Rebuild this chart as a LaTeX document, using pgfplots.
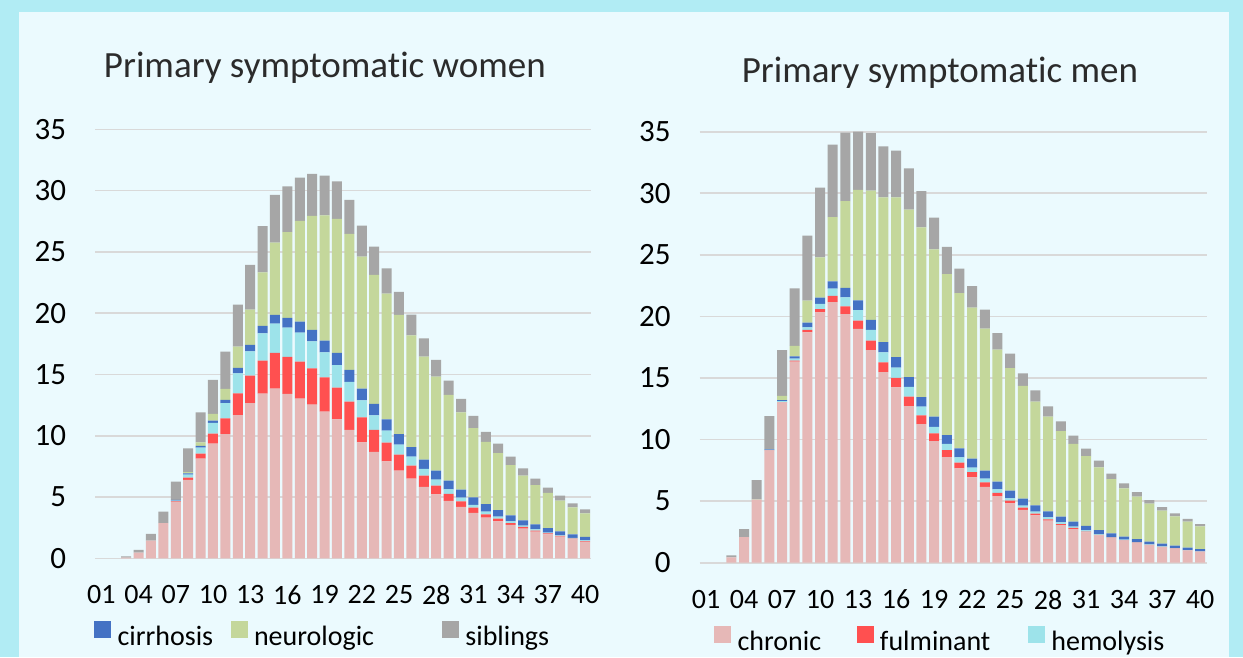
\documentclass[border=0pt]{standalone}
\usepackage{pgfplots}
\pgfplotsset{compat=1.18}
\usepackage{pgfplotstable}
\usepackage{fontspec}
\setmainfont{Carlito}[Ligatures=NoCommon]
\definecolor{outerbg}{HTML}{B1ECF4}
\definecolor{innerbg}{HTML}{EBFAFE}
\definecolor{gridc}{HTML}{D9D9D9}
\definecolor{titlec}{HTML}{2B2B2B}
\definecolor{chronicc}{HTML}{E6B8B7}
\definecolor{fulmc}{HTML}{FF5050}
\definecolor{hemoc}{HTML}{9DE3EA}
\definecolor{cirrc}{HTML}{4472C4}
\definecolor{neuroc}{HTML}{C4D79B}
\definecolor{sibc}{HTML}{A6A6A6}

\pgfplotstableread{
cat chronic fulm hemo cirr neuro sib
1 0 0 0 0 0 0
2 0 0 0 0 0 0
3 0.05 0 0 0 0 0.10
4 0.46 0 0 0 0 0.22
5 1.44 0 0 0 0 0.55
6 2.86 0 0 0 0 0.95
7 4.60 0.04 0.06 0.06 0 1.50
8 6.39 0.19 0.25 0.10 0.11 1.93
9 8.13 0.41 0.49 0.14 0.29 2.45
10 9.36 0.81 0.87 0.19 0.55 2.77
11 10.14 1.28 1.23 0.27 0.90 3.04
12 11.69 1.77 1.63 0.44 1.74 3.43
13 12.67 2.23 1.99 0.52 2.88 3.64
14 13.43 2.70 2.23 0.60 4.37 3.78
15 13.84 2.91 2.40 0.70 5.90 3.89
16 13.41 3.02 2.39 0.79 7.01 3.73
17 13.03 3.02 2.36 0.90 8.21 3.54
18 12.54 2.96 2.20 0.93 9.30 3.43
19 11.97 2.80 2.04 0.95 10.22 3.24
20 11.34 2.58 1.85 0.98 10.94 3.07
21 10.47 2.31 1.61 0.98 11.09 2.78
22 9.46 2.04 1.39 0.95 10.77 2.53
23 8.68 1.79 1.20 0.92 10.53 2.31
24 7.91 1.53 0.98 0.92 10.25 2.07
25 7.15 1.31 0.81 0.87 9.71 1.88
26 6.50 1.06 0.73 0.79 9.11 1.69
27 5.82 0.92 0.55 0.76 8.40 1.50
28 5.22 0.71 0.49 0.73 7.67 1.36
29 4.68 0.57 0.38 0.71 6.99 1.17
30 4.19 0.46 0.30 0.65 6.31 1.09
31 3.70 0.43 0.22 0.63 5.65 0.98
32 3.32 0.27 0.22 0.60 5.08 0.82
33 3.02 0.22 0.16 0.54 4.65 0.77
34 2.72 0.16 0.14 0.49 4.10 0.68
35 2.42 0.14 0.11 0.43 3.64 0.60
36 2.18 0.08 0.11 0.40 3.21 0.52
37 1.96 0.08 0.05 0.38 2.86 0.44
38 1.77 0.05 0.06 0.32 2.50 0.41
39 1.55 0.05 0.06 0.30 2.20 0.33
40 1.33 0.06 0.08 0.27 1.93 0.33
}\women

\pgfplotstableread{
cat chronic fulm hemo cirr neuro sib
1 0 0 0 0 0 0
2 0 0 0 0 0 0
3 0.43 0 0 0 0 0.17
4 2.08 0 0 0 0 0.65
5 5.12 0 0 0 0.02 1.57
6 9.10 0.02 0.04 0.04 0 2.71
7 13.02 0.03 0.08 0.08 0.33 3.73
8 16.32 0.08 0.17 0.19 0.84 4.68
9 18.71 0.19 0.21 0.38 1.79 5.28
10 20.33 0.27 0.41 0.51 3.28 5.65
11 21.17 0.49 0.59 0.60 5.22 5.88
12 20.19 0.63 0.73 0.76 7.06 5.55
13 18.98 0.67 0.87 0.78 8.97 4.73
14 17.27 0.76 0.87 0.81 10.50 4.68
15 15.48 0.79 0.81 0.84 11.75 4.14
16 14.24 0.76 0.84 0.86 12.97 3.79
17 12.72 0.76 0.79 0.81 13.59 3.35
18 11.26 0.71 0.70 0.78 13.78 2.95
19 9.88 0.62 0.54 0.82 13.59 2.57
20 8.58 0.57 0.49 0.73 13.07 2.20
21 7.66 0.46 0.43 0.74 12.61 1.98
22 6.93 0.43 0.36 0.73 12.26 1.76
23 6.15 0.37 0.30 0.65 11.53 1.55
24 5.41 0.27 0.28 0.62 10.72 1.35
25 4.82 0.22 0.18 0.63 9.96 1.16
26 4.28 0.19 0.16 0.57 9.15 1.03
27 3.84 0.14 0.16 0.52 8.42 0.92
28 3.41 0.11 0.16 0.49 7.69 0.84
29 3.06 0.08 0.14 0.46 6.95 0.79
30 2.73 0.09 0.10 0.41 6.31 0.67
31 2.46 0.06 0.11 0.37 5.66 0.60
32 2.22 0.05 0.06 0.32 5.09 0.54
33 2.00 0.03 0.05 0.30 4.41 0.44
34 1.79 0.03 0.05 0.24 3.93 0.40
35 1.62 0.02 0.04 0.24 3.44 0.38
36 1.43 0.02 0.04 0.22 3.08 0.30
37 1.27 0.02 0.04 0.21 2.68 0.30
38 1.14 0.02 0.03 0.19 2.38 0.25
39 1.00 0.01 0.02 0.19 2.11 0.22
40 0.89 0.01 0.02 0.19 1.84 0.19
}\men

\pgfplotsset{
  panel/.style={
    scale only axis,
    xmin=0.5, xmax=40.5, ymin=0, ymax=35,
    ybar stacked, bar width=10pt,
    xtick={1,4,...,40},
    xticklabels={01,04,07,10,13,16,19,22,25,28,31,34,37,40},
    ytick={0,5,...,35},
    ymajorgrids, grid style={line width=1.6pt, draw=gridc},
    axis line style={draw=none}, major tick length=0pt,
    tick label style={/pgf/number format/assume math mode=true},
    yticklabel style={font=\fontsize{31}{31}\selectfont, inner sep=0pt, anchor=east, xshift=-29pt},
    xticklabel style={font=\fontsize{28}{28}\selectfont, inner sep=0pt, anchor=north, yshift=-27pt},
    legend style={draw=none, fill=none, legend columns=3, inner sep=0pt,
      nodes={inner sep=0pt}, font=\fontsize{28}{28}\selectfont},
    title style={font=\fontsize{37}{37}\selectfont, color=titlec, inner sep=0pt, anchor=base},
  },
  stk/.style={draw=none, fill=#1, forget plot},
}

\begin{document}
\begin{tikzpicture}[x=1pt,y=1pt]
\fill[outerbg] (0,0) rectangle (1243,657);
\fill[innerbg] (19,0) rectangle (1229,645);

\begin{axis}[panel, width=496pt, height=429pt, at={(95.2pt,98.7pt)}, anchor=south west,
  title={Primary symptomatic women}, title style={at={(0.463,1.1057)}},
  legend style={at={(-0.0024,-0.1765)}, anchor=west}]
\addplot[stk=chronicc] table[x=cat,y=chronic]{\women};
\addplot[stk=fulmc] table[x=cat,y=fulm]{\women};
\addplot[stk=hemoc] table[x=cat,y=hemo]{\women};
\addplot[stk=cirrc] table[x=cat,y=cirr]{\women};
\addplot[stk=neuroc] table[x=cat,y=neuro]{\women};
\addplot[stk=sibc] table[x=cat,y=sib]{\women};
\addlegendimage{legend image code/.code={\fill[cirrc] (0pt,0pt) rectangle (16pt,16pt);}}
\addlegendentry{\makebox[120pt][l]{\hspace{7pt}cirrhosis}}
\addlegendimage{legend image code/.code={\fill[neuroc] (0pt,0pt) rectangle (16pt,16pt);}}
\addlegendentry{\makebox[195pt][l]{\hspace{7pt}neurologic}}
\addlegendimage{legend image code/.code={\fill[sibc] (0pt,0pt) rectangle (16pt,16pt);}}
\addlegendentry{\makebox[100pt][l]{\hspace{7pt}siblings}}
\end{axis}

\begin{axis}[panel, width=506.8pt, height=431pt, at={(699.7pt,94.3pt)}, anchor=south west,
  title={Primary symptomatic men}, title style={at={(0.474,1.1014)}},
  legend style={at={(0.0282,-0.177)}, anchor=west}]
\addplot[stk=chronicc] table[x=cat,y=chronic]{\men};
\addplot[stk=fulmc] table[x=cat,y=fulm]{\men};
\addplot[stk=hemoc] table[x=cat,y=hemo]{\men};
\addplot[stk=cirrc] table[x=cat,y=cirr]{\men};
\addplot[stk=neuroc] table[x=cat,y=neuro]{\men};
\addplot[stk=sibc] table[x=cat,y=sib]{\men};
\addlegendimage{legend image code/.code={\fill[chronicc] (0pt,0pt) rectangle (16pt,16pt);}}
\addlegendentry{\makebox[126pt][l]{\hspace{7pt}chronic}}
\addlegendimage{legend image code/.code={\fill[fulmc] (0pt,0pt) rectangle (16pt,16pt);}}
\addlegendentry{\makebox[155pt][l]{\hspace{7pt}fulminant}}
\addlegendimage{legend image code/.code={\fill[hemoc] (0pt,0pt) rectangle (16pt,16pt);}}
\addlegendentry{\makebox[125pt][l]{\hspace{7pt}hemolysis}}
\end{axis}
\pgfresetboundingbox
\useasboundingbox (0,0) rectangle (1243,657);
\end{tikzpicture}
\end{document}
